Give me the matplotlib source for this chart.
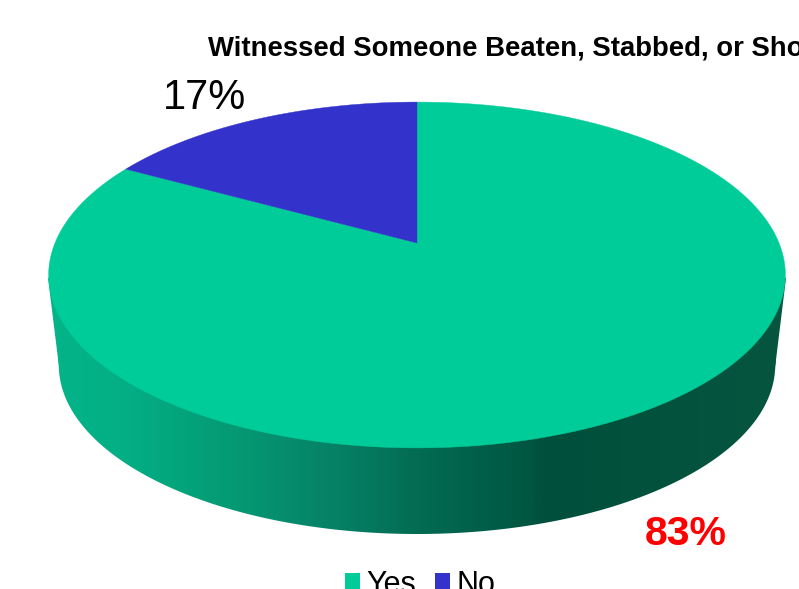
import numpy as np
import matplotlib
matplotlib.use("Agg")
import matplotlib.pyplot as plt
from matplotlib.colors import LinearSegmentedColormap
from matplotlib.patches import Patch, Polygon

categories = ["Yes", "No"]
values = [83, 17]
colors = ["#00CC99", "#3333CC"]
value_labels = ["83%", "17%"]
title = "Witnessed Someone Beaten, Stabbed, or Shot"

plt.rcParams["font.family"] = ["Liberation Sans", "DejaVu Sans"]


def project(theta, cx, cy, w, a, k=0.185):
    # perspective view of a flat unit circle, theta clockwise from 12 o'clock
    x = np.sin(theta)
    y = np.cos(theta)
    d = 1 + k * y
    return cx + w * x / d, cy - a * y / d


# side wall shade runs left to right across the picture
wall_cmap = LinearSegmentedColormap.from_list("wall", [
    (0.00, "#04B488"),
    (0.10, "#03AE84"),
    (0.24, "#049A74"),
    (0.37, "#068468"),
    (0.50, "#036C53"),
    (0.66, "#005541"),
    (0.68, "#004F3C"),
    (1.00, "#05553F"),
])

fig = plt.figure(figsize=(7.99, 5.89), dpi=100)
ax = fig.add_axes([0, 0, 1, 1])
ax.axis("off")

top = dict(cx=417, cy=243, w=362, a=167)
bottom = dict(cx=417, cy=334, w=352, a=163)

# side wall: gradient clipped to lower rim (right to left) closed over the top face
t = np.linspace(0, 2 * np.pi, 720)
bx, by = project(t, **bottom)
low = by >= by[np.argmin(bx)]
wall_outline = np.c_[np.r_[bx[low], 48, 786], np.r_[by[low], 278, 278]]
wall_patch = Polygon(wall_outline, closed=True, facecolor="none", edgecolor="none")
ax.add_patch(wall_patch)
gradient = ax.imshow(np.linspace(0, 1, 512)[None, :], cmap=wall_cmap, aspect="auto",
                     extent=(58, 776, 589, 0), interpolation="bilinear")
gradient.set_clip_path(wall_patch)
# extend the edge colours out to the widest part of the wall
for x0, x1, c in [(40, 59, 0.0), (775, 795, 1.0)]:
    edge = ax.fill_between([x0, x1], 0, 589, color=wall_cmap(c), lw=0)
    edge.set_clip_path(wall_patch)

# top face, slices measured from 12 o'clock
fractions = np.array(values) / sum(values)
start = 0.0
for frac, col in zip(fractions, colors):
    t = np.linspace(start, start + frac * 2 * np.pi, 400)
    x, y = project(t, **top)
    ax.fill(np.r_[top["cx"], x], np.r_[top["cy"], y], color=col, lw=0.3)
    start += frac * 2 * np.pi

ax.set_xlim(0, 799)
ax.set_ylim(589, 0)

ax.text(208, 48, title, fontsize=19.8, fontweight="bold", va="center", ha="left",
        color="black")
ax.text(205, 98, value_labels[1], fontsize=30, ha="center", va="center", color="black")
ax.text(686, 534, value_labels[0], fontsize=29.5, fontweight="bold", ha="center",
        va="center", color="#FF0000")

handles = [Patch(facecolor=c, edgecolor="none", label=l) for c, l in zip(colors, categories)]
ax.legend(handles=handles, ncol=2, frameon=False, fontsize=22,
          loc="center", bbox_to_anchor=(420 / 799, 1 - 585 / 589),
          handlelength=0.52, handleheight=0.52, handletextpad=0.2,
          columnspacing=0.6, borderpad=0, labelspacing=0)

fig.savefig("out.png", dpi=100)
